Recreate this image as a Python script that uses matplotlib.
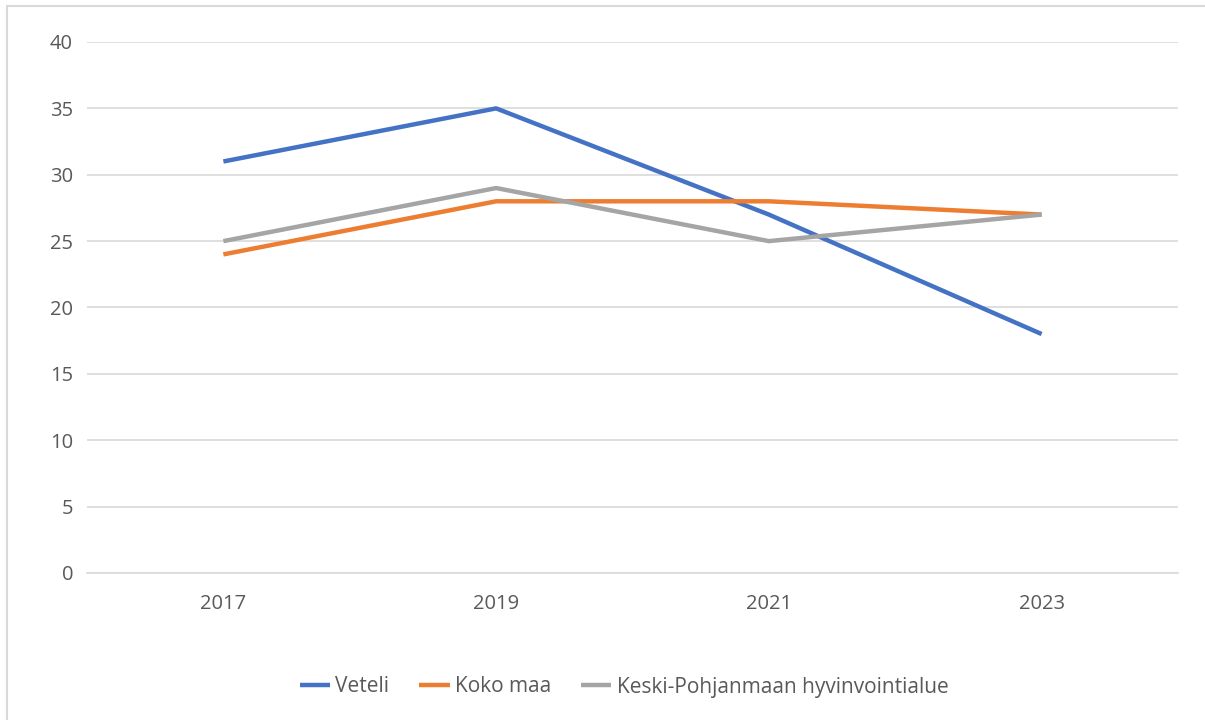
import matplotlib
matplotlib.use("Agg")
import matplotlib.pyplot as plt
from matplotlib.patches import Rectangle

years = ["2017", "2019", "2021", "2023"]
veteli = [31, 35, 27, 18]
koko_maa = [24, 28, 28, 27]
keski = [25, 29, 25, 27]
series_names = ["Veteli", "Koko maa", "Keski-Pohjanmaan hyvinvointialue"]
colors = ["#4472C4", "#ED7D31", "#A5A5A5"]
yticks = [0, 5, 10, 15, 20, 25, 30, 35, 40]

plt.rcParams['font.family'] = ['Open Sans', 'DejaVu Sans']

fig = plt.figure(figsize=(12.05, 7.2), dpi=100)
fig.patches.append(Rectangle((7/1205, -0.01), 1.0, 1 - 6/720 + 0.01, transform=fig.transFigure,
                             fill=False, edgecolor="#D9D9D9", linewidth=1.5))
ax = fig.add_axes([87/1205, 1 - 573/720, (1178-87)/1205, (573-42)/720])

x = list(range(len(years)))
for vals, name, c in zip([veteli, koko_maa, keski], series_names, colors):
    ax.plot(x, vals, color=c, linewidth=3.2, label=name, solid_capstyle="butt", zorder=3)

ax.set_xlim(-0.5, len(years) - 0.5)
ax.set_ylim(0, 40)
ax.set_yticks(yticks)
ax.set_xticks(x)
ax.set_xticklabels(years)
ax.grid(axis="y", color="#D9D9D9", linewidth=1.2)
ax.set_axisbelow(True)
for s in ["top", "right", "left"]:
    ax.spines[s].set_visible(False)
ax.spines["bottom"].set_color("#D9D9D9")
ax.spines["bottom"].set_linewidth(1.2)
ax.tick_params(axis="both", length=0, labelsize=14.5, labelcolor="#595959")
ax.tick_params(axis="y", pad=10)
ax.tick_params(axis="x", pad=15)

leg = fig.legend(loc="center", bbox_to_anchor=(624/1205, 1 - 687/720), ncol=3, frameon=False,
                 fontsize=15, handlelength=1.45, handletextpad=0.25, columnspacing=1.45)
for t in leg.get_texts():
    t.set_color("#595959")

fig.savefig("out.png", dpi=100)
